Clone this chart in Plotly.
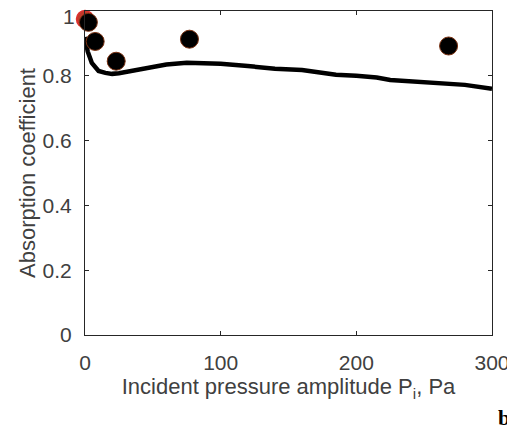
import plotly.graph_objects as go

# Measured data (markers)
meas_x = [2.5, 7.5, 23, 77, 268]
meas_y = [0.965, 0.906, 0.845, 0.913, 0.892]
ref_x = [0.0]
ref_y = [0.975]

# Model curve
model_x = [0, 2, 5, 10, 15, 20, 25, 30, 40, 50, 60, 75, 90, 100, 120, 140, 160,
           175, 185, 200, 215, 225, 240, 260, 280, 300]
model_y = [0.92, 0.875, 0.84, 0.815, 0.809, 0.806, 0.808, 0.812, 0.822, 0.83, 0.835,
           0.84, 0.84, 0.837, 0.83, 0.822, 0.818, 0.81, 0.803, 0.80, 0.795, 0.787,
           0.782, 0.778, 0.772, 0.76]

x_ticks = [0, 100, 200, 300]
y_ticks = [0, 0.2, 0.4, 0.6, 0.8, 1]
y_ticklabels = ["0", "0.2", "0.4", "0.6", "0.8", "1"]

fig = go.Figure()
fig.add_trace(go.Scatter(x=model_x, y=model_y, mode="lines",
                         line=dict(color="black", width=4.5), cliponaxis=True,
                         showlegend=False))
fig.add_trace(go.Scatter(x=ref_x, y=ref_y, mode="markers", cliponaxis=False,
                         marker=dict(size=17, color="#c0392b",
                                     line=dict(color="#e03030", width=1.5)),
                         showlegend=False))
fig.add_trace(go.Scatter(x=meas_x, y=meas_y, mode="markers", cliponaxis=False,
                         marker=dict(size=18, color="black",
                                     line=dict(color="#7a3010", width=1)),
                         showlegend=False))

font_col = "#404040"
# top label is drawn as annotation (it would be hidden past the page top)
shown_y_text = y_ticklabels[:-1] + [""]
fig.update_layout(
    width=507, height=424,
    margin=dict(l=77, r=23, t=3, b=97),
    paper_bgcolor="white", plot_bgcolor="white",
    font=dict(family="Liberation Sans, Arial", size=21, color=font_col),
    xaxis=dict(range=[0, 300], tickvals=x_ticks, ticks="inside", ticklen=4,
               tickcolor="#262626", showline=True, linecolor="#262626", linewidth=1.2,
               mirror="ticks", showgrid=False, zeroline=False, automargin=False,
               tickfont=dict(size=21, color=font_col), ticklabelstandoff=9,
               ticklabeloverflow="allow",
               title=dict(text="Incident pressure amplitude P<sub>i</sub>, Pa",
                          font=dict(size=22, color=font_col), standoff=5)),
    yaxis=dict(range=[0, 1], tickvals=y_ticks, ticktext=shown_y_text, ticks="inside",
               ticklen=4, tickcolor="#262626", showline=True, linecolor="#262626",
               linewidth=1.2, mirror="ticks", showgrid=False, zeroline=False,
               automargin=False, tickfont=dict(size=21, color=font_col),
               ticklabelstandoff=8,
               title=dict(text="Absorption coefficient",
                          font=dict(size=22, color=font_col), standoff=0)),
)
fig.add_annotation(text=y_ticklabels[-1], xref="paper", yref="y", x=-0.02, y=y_ticks[-1],
                   yshift=-5, xanchor="right", yanchor="middle", showarrow=False,
                   font=dict(size=21, color=font_col))
fig.add_annotation(text="<b>b</b>", xref="paper", yref="paper", x=1.049, y=-0.255,
                   xanchor="right", yanchor="middle", showarrow=False,
                   font=dict(family="Liberation Serif, Times New Roman", size=22, color="black"))

fig.write_html("out.html")
